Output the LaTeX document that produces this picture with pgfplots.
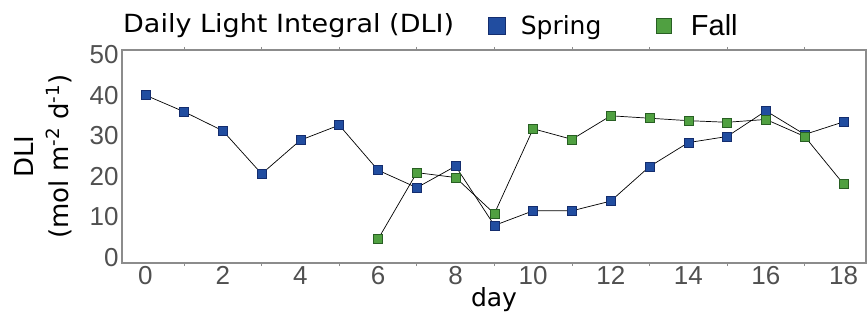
\documentclass[border=0pt]{standalone}
\usepackage{fontspec}
\setmainfont{Liberation Sans}
\newfontfamily\dejavu{DejaVu Sans}
\newfontfamily\dejavuwide[FakeStretch=1.08]{DejaVu Sans}
\usepackage{pgfplots}
\pgfplotsset{compat=1.18}
\definecolor{springfill}{RGB}{33,77,160}
\definecolor{springedge}{RGB}{20,45,110}
\definecolor{fallfill}{RGB}{80,160,65}
\definecolor{falledge}{RGB}{40,95,35}
\definecolor{framegray}{RGB}{140,140,140}
\definecolor{ticklab}{RGB}{80,80,80}
\begin{document}
\begin{tikzpicture}
\useasboundingbox (0,0) rectangle (867bp,313bp);
\begin{axis}[
  at={(122bp,50bp)}, anchor=south west,
  scale only axis, width=744bp, height=213bp,
  xmin=-0.6, xmax=18.58, ymin=-1.35, ymax=51.1,
  xtick={0,2,...,18}, minor xtick={1,3,...,17},
  ytick={0,10,...,50},
  major tick length=0pt, minor tick length=3bp,
  tick align=outside,
  axis line style={framegray, line width=1.1bp},
  every minor tick/.style={framegray, line width=0.8bp},
  tick label style={font=\fontsize{26bp}{30bp}\selectfont, text=ticklab},
  /pgf/number format/assume math mode=true,
  xlabel={day},
  xlabel style={font=\dejavu\fontsize{25bp}{30bp}\selectfont, at={(axis description cs:0.5,0)}, anchor=north, inner sep=0pt, yshift=-24bp},
  ylabel={DLI\\(mol m\textsuperscript{-2} d\textsuperscript{-1})},
  ylabel style={font=\dejavu\fontsize{26bp}{35bp}\selectfont, align=center, at={(axis description cs:-0.0672,0.5)}, anchor=south, inner sep=0pt},
  legend columns=2,
  legend cell align=left,
  legend style={at={(axis description cs:0.492,1.115)}, anchor=west, draw=none, fill=none, inner sep=0pt,
    nodes={inner sep=0pt},
    /tikz/column 1/.style={column sep=15bp},
    /tikz/column 2/.style={column sep=55bp},
    /tikz/column 3/.style={column sep=19bp}},
]
\addplot[black, line width=0.7bp, mark=square*, mark size=4.5bp,
  mark options={fill=springfill, draw=springedge, line width=0.5bp},
  legend image code/.code={\filldraw[fill=springfill, draw=springedge, line width=0.5bp] (0bp,-8.5bp) rectangle (17bp,8.5bp);}]
coordinates {(0,40.0)(1,35.9)(2,31.2)(3,20.6)(4,28.9)(5,32.6)(6,21.5)(7,17.2)(8,22.5)(9,7.9)(10,11.5)(11,11.5)(12,13.9)(13,22.4)(14,28.3)(15,29.8)(16,36.1)(17,30.3)(18,33.4)};
\addlegendentry{\dejavu\fontsize{25bp}{30bp}\selectfont Spring}
\addplot[black, line width=0.7bp, mark=square*, mark size=4.5bp,
  mark options={fill=fallfill, draw=falledge, line width=0.5bp},
  legend image code/.code={\filldraw[fill=fallfill, draw=falledge, line width=0.5bp] (0bp,-7.5bp) rectangle (15bp,7.5bp);}]
coordinates {(6,4.5)(7,20.9)(8,19.7)(9,10.8)(10,31.7)(11,29.1)(12,34.9)(13,34.3)(14,33.7)(15,33.3)(16,34.0)(17,29.8)(18,18.1)};
\addlegendentry{\fontsize{29bp}{32bp}\selectfont Fall}
\end{axis}
\node[anchor=base west, inner sep=0pt, font=\dejavuwide\fontsize{25bp}{30bp}\selectfont] at (123bp,280bp) {Daily Light Integral (DLI)};
\end{tikzpicture}
\end{document}
